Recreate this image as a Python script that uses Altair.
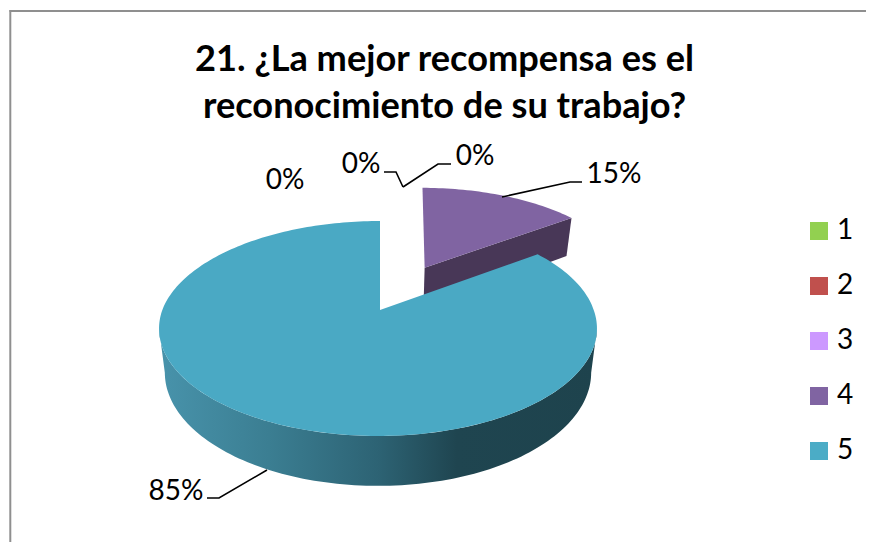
import math
import altair as alt
import pandas as pd

CATEGORIES = ["1", "2", "3", "4", "5"]
VALUES = [0, 0, 0, 15, 85]
COLORS = ["#92d050", "#c0504d", "#cc99ff", "#8064a2", "#4bacc6"]
TITLE_LINES = ["21. ¿La mejor recompensa es el", "reconocimiento de su trabajo?"]

FONT = "Lato"
W, H = 858, 534

# perspective of the pie's top and bottom planes
CX = 378.0
TOP = dict(a=215.7, b=104.3, y0=310.0, k=0.172)
BOT = dict(a=210.0, b=110.0, y0=353.0, k=0.172)
EXPLODE = 0.49


def project(u, v, p):
    d = 1 + p["k"] * v
    return CX + p["a"] * u / d, p["y0"] - p["b"] * v / d


def pt(theta, plane, off=(0, 0), r=1.0):
    t = math.radians(theta)
    u = off[0] + r * math.sin(t)
    v = off[1] + r * math.cos(t)
    x, y = project(u, v, plane)
    return x + 2 * max(v, 0), y


def pt4(theta, plane, r=1.0):
    t = math.radians(theta)
    u = off4[0] + r * math.sin(t)
    v = off4[1] + r * math.cos(t)
    x, y = project(u, v, plane)
    return x + 4 * (v - off4[1]) + 2 - 2 * max(0, 0), y - 2 * (v - off4[1])


def arange(a, b, n=120):
    return [a + (b - a) * i / n for i in range(n + 1)]


share4 = VALUES[3] / sum(VALUES) * 360
mid = math.radians(share4 / 2)
off4 = (EXPLODE * math.sin(mid), EXPLODE * math.cos(mid))
tip5 = (CX + 2, TOP["y0"])

polys = {
    "wall4": [pt4(0, TOP, 0), pt4(share4, TOP), pt4(share4, BOT), pt4(0, BOT, 0)],
    "top4": [pt4(0, TOP, 0)] + [pt4(t, TOP) for t in arange(0, share4, 40)],
    "wall5": [pt(t, TOP) for t in arange(100, 260)] + [pt(t, BOT) for t in arange(260, 100)],
    "top5": [tip5] + [pt(t, TOP) for t in arange(share4, 360, 240)],
}

rows = []
for name, pts in polys.items():
    closed = pts + [pts[0]]
    for i, (x, y) in enumerate(closed):
        rows.append(dict(poly=name, i=i, x=x, y=y))
geo = pd.DataFrame(rows)

xs = alt.Scale(domain=[8, 8 + W], range=[0, W], nice=False, zero=False)
ys = alt.Scale(domain=[8, 8 + H], range=[0, H], nice=False, zero=False)
X = lambda f="x": alt.X(f"{f}:Q", scale=xs, axis=None)
Y = lambda f="y": alt.Y(f"{f}:Q", scale=ys, axis=None)


def poly(name, fill):
    return (
        alt.Chart(geo[geo.poly == name])
        .mark_line(fill=fill, strokeWidth=0, clip=False)
        .encode(x=X(), y=Y(), order="i:Q")
    )


wall_grad = alt.Gradient(
    gradient="linear", x1=0, x2=1, y1=0, y2=0,
    stops=[
        alt.GradientStop(offset=0, color="#4893ab"),
        alt.GradientStop(offset=0.25, color="#3b7e92"),
        alt.GradientStop(offset=0.5, color="#2d6374"),
        alt.GradientStop(offset=0.68, color="#1f4550"),
        alt.GradientStop(offset=1, color="#1e434d"),
    ],
)

pct = [f"{round(v / sum(VALUES) * 100)}%" for v in VALUES]
labels = pd.DataFrame([
    dict(t=pct[0], x=285, y=181),
    dict(t=pct[1], x=361, y=165),
    dict(t=pct[2], x=475, y=157),
    dict(t=pct[3], x=614, y=175),
    dict(t=pct[4], x=176, y=492),
])
leaders = [
    [(451, 164), (438, 164), (403, 187)],
    [(384, 172), (396, 172), (403, 187)],
    [(582, 182), (570, 182), (502, 197)],
    [(207, 498), (219, 498), (267, 470)],
]
lead = pd.DataFrame([
    dict(id=j, i=i, x=x, y=y) for j, l in enumerate(leaders) for i, (x, y) in enumerate(l)
])
frame = pd.DataFrame([
    dict(x=10.3, x2=10.3, y=10, y2=8 + H),
    dict(x=9.5, x2=8 + W, y=11, y2=11),
])
titles = pd.DataFrame([dict(t=TITLE_LINES[0], y=60), dict(t=TITLE_LINES[1], y=107)])

frame_l = alt.Chart(frame).mark_rule(color="#8f8f8f", strokeWidth=2).encode(
    x=X(), x2="x2:Q", y=Y(), y2="y2:Q"
)
title_l = alt.Chart(titles).mark_text(
    font=FONT, fontSize=36.2, fontWeight="bold", color="#000000", baseline="middle", align="center"
).encode(x=alt.value(444.5 - 8), y=Y(), text="t:N")
lead_l = alt.Chart(lead).mark_line(color="#000000", strokeWidth=1.6).encode(
    x=X(), y=Y(), detail="id:N", order="i:Q"
)
text_l = alt.Chart(labels).mark_text(
    font=FONT, fontSize=28, color="#000000", baseline="middle", align="center"
).encode(x=X(), y=Y(), text="t:N")

legend_l = alt.Chart(pd.DataFrame(dict(cat=CATEGORIES, v=VALUES))).mark_point(
    filled=True, size=0, shape="square"
).encode(
    x=alt.value(-50), y=alt.value(-50),
    color=alt.Color(
        "cat:N",
        scale=alt.Scale(domain=CATEGORIES, range=COLORS),
        legend=alt.Legend(
            title=None, orient="none", legendX=797, legendY=209,
            symbolType="square", symbolSize=324, symbolStrokeWidth=0, symbolOpacity=1,
            labelFont=FONT, labelFontSize=28, labelColor="#000000",
            rowPadding=27, labelOffset=4, padding=0,
        ),
    ),
)

chart = alt.layer(
    frame_l,
    poly("wall4", "#483757"),
    poly("top4", "#8064a2"),
    poly("wall5", wall_grad),
    poly("top5", "#4aa9c4"),
    lead_l,
    text_l,
    title_l,
    legend_l,
).properties(
    width=W, height=H, padding=0, background="#ffffff",
    autosize=alt.AutoSizeParams(type="none"),
).configure_view(stroke=None)

chart.save("out.html", embed_options={"renderer": "svg", "actions": False})
